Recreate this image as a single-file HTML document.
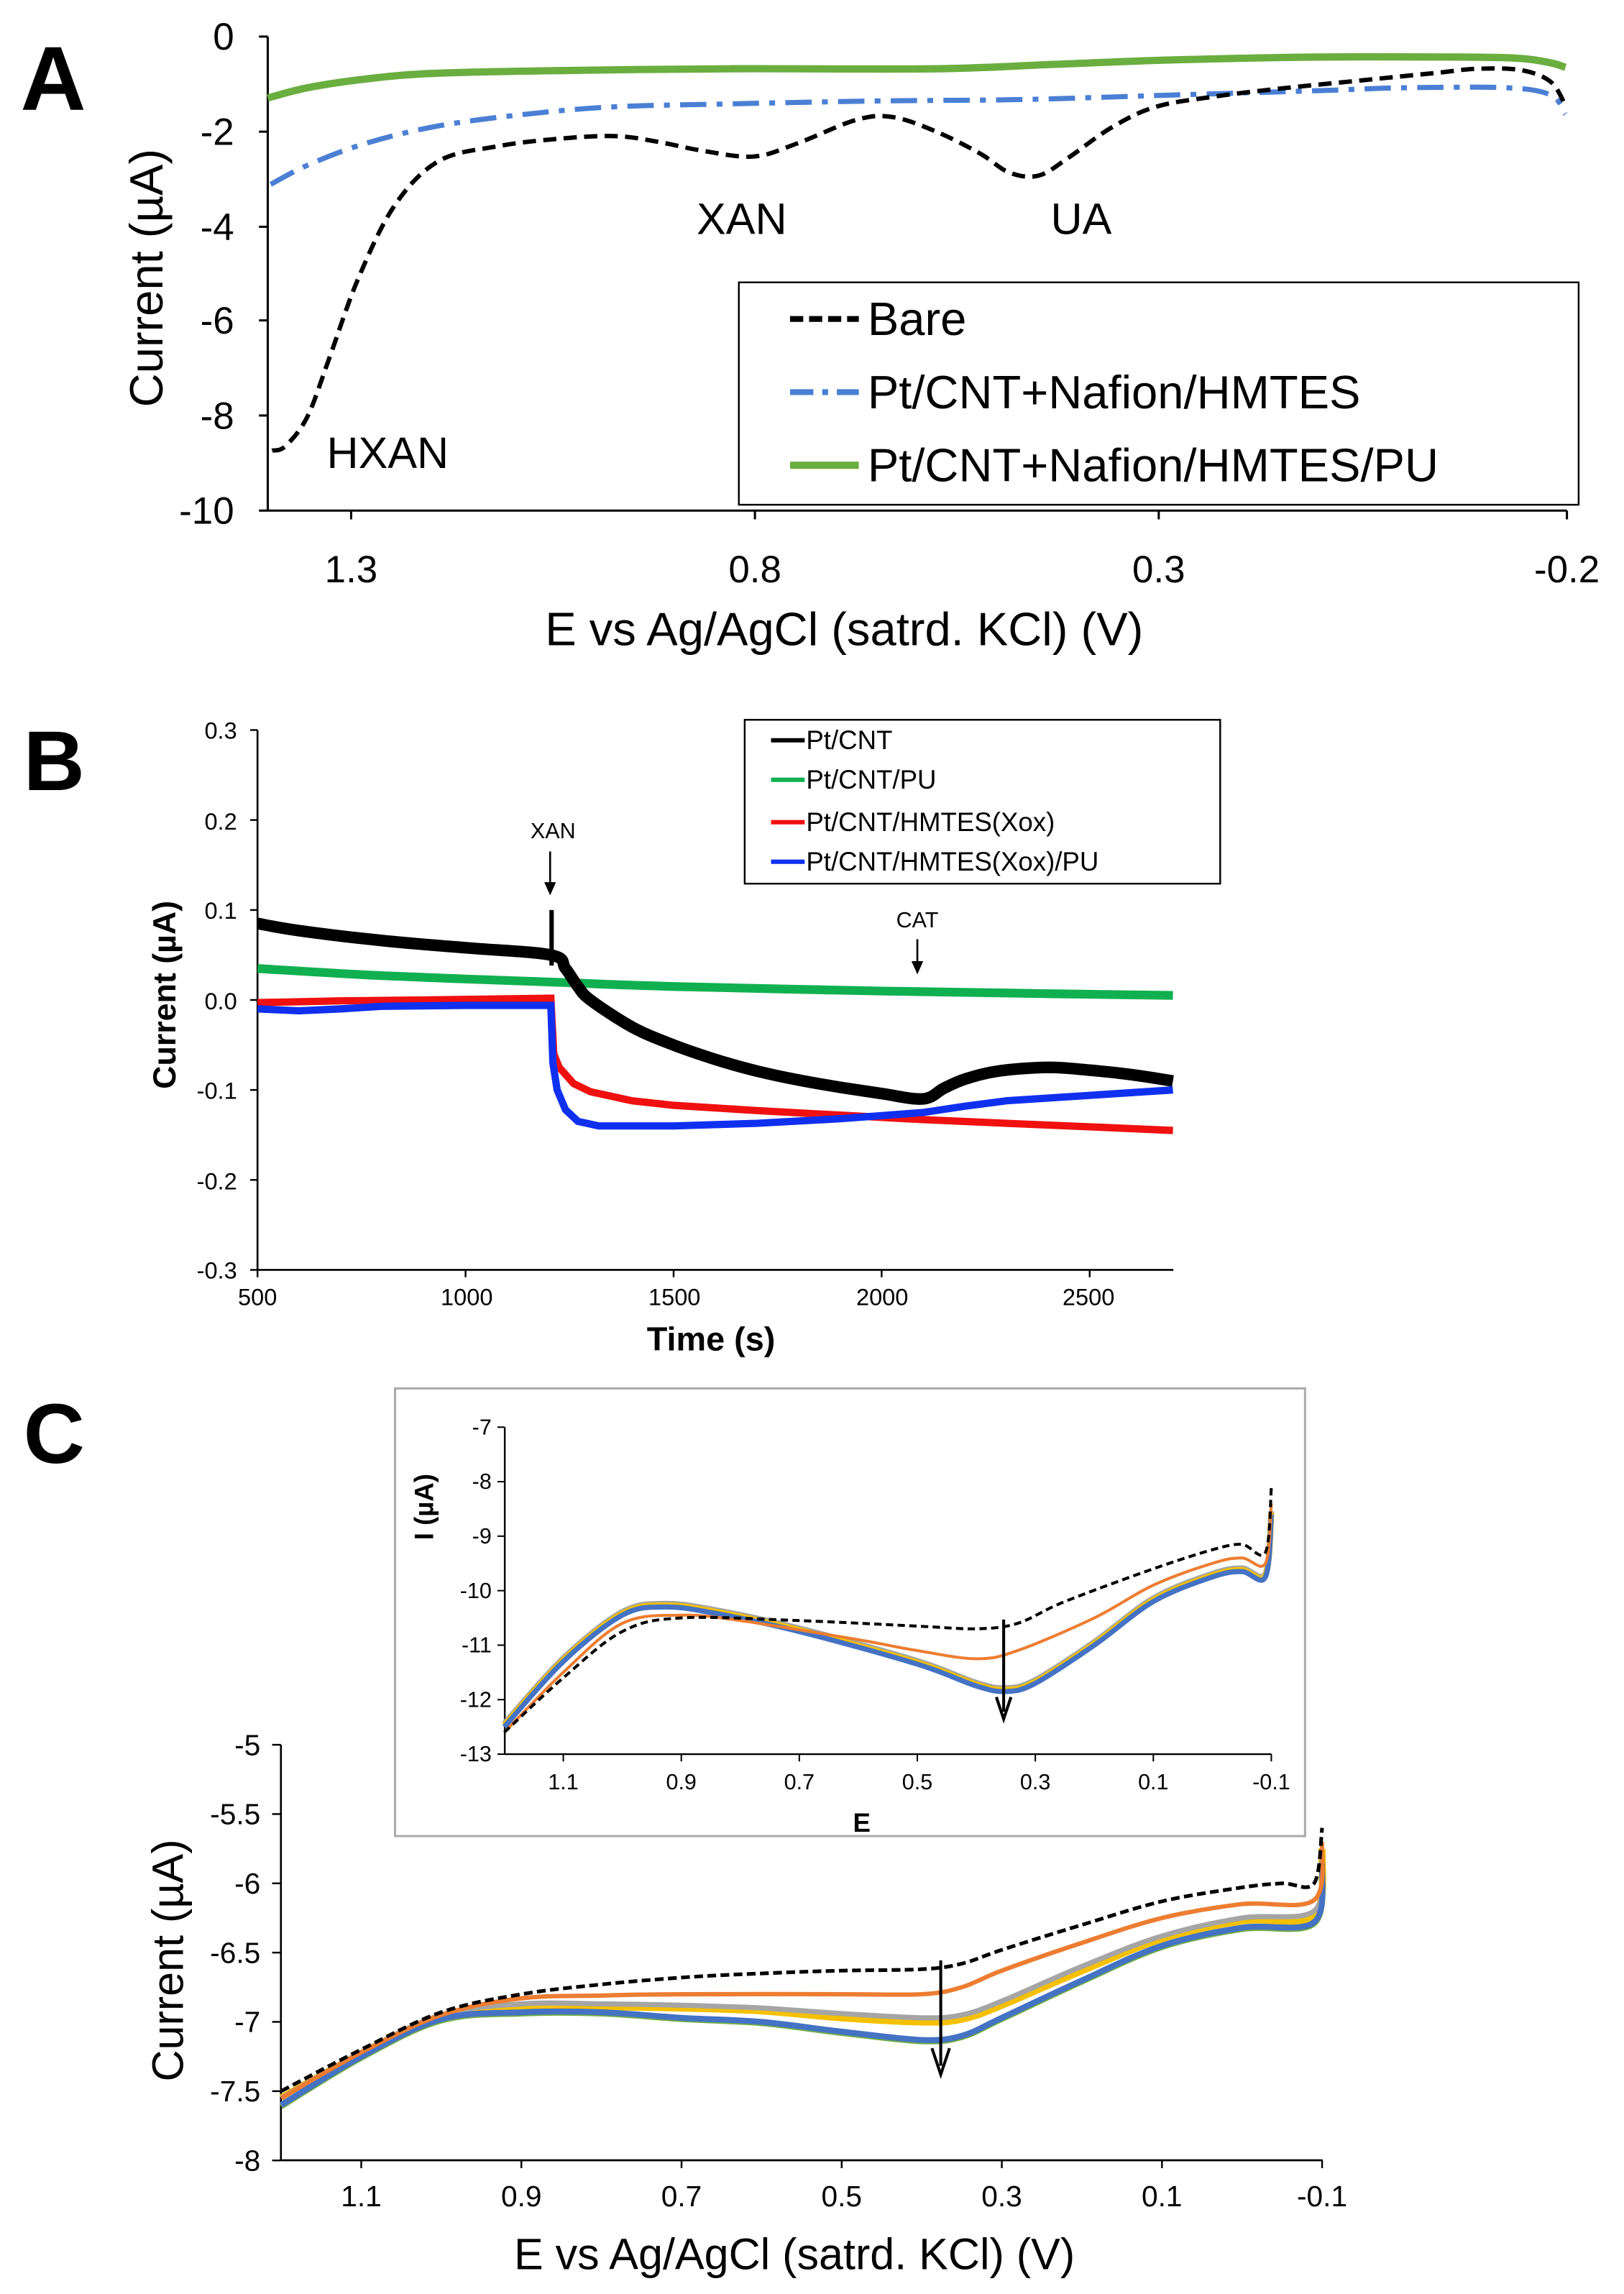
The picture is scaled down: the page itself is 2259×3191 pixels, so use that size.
<!DOCTYPE html>
<html><head><meta charset="utf-8"><style>
html,body{margin:0;padding:0;background:#fff}
svg{display:block}
text{font-family:"Liberation Sans",sans-serif}
</style></head><body>
<svg id="s" width="2259" height="3191" viewBox="0 0 1110 1568" xmlns="http://www.w3.org/2000/svg">
<rect width="1110" height="1568" fill="#fff"/>
<!-- Panel A -->
<text x="14" y="75" font-size="62" font-weight="bold">A</text>
<g stroke="#000" stroke-width="1.5" fill="none">
<line x1="183" y1="25" x2="183" y2="349"/><line x1="183" y1="349" x2="1071" y2="349"/>
<line x1="177" y1="25" x2="183" y2="25"/><line x1="177" y1="90" x2="183" y2="90"/><line x1="177" y1="155" x2="183" y2="155"/><line x1="177" y1="219" x2="183" y2="219"/><line x1="177" y1="284" x2="183" y2="284"/><line x1="177" y1="349" x2="183" y2="349"/>
<line x1="240" y1="349" x2="240" y2="355"/><line x1="516" y1="349" x2="516" y2="355"/><line x1="792" y1="349" x2="792" y2="355"/><line x1="1071" y1="349" x2="1071" y2="355"/>
</g>
<g font-size="26" text-anchor="end">
<text x="160" y="34">0</text><text x="160" y="99">-2</text><text x="160" y="164">-4</text><text x="160" y="228">-6</text><text x="160" y="293">-8</text><text x="160" y="358">-10</text>
</g>
<g font-size="26" text-anchor="middle">
<text x="240" y="398">1.3</text><text x="516" y="398">0.8</text><text x="792" y="398">0.3</text><text x="1071" y="398">-0.2</text>
</g>
<text x="577" y="441" font-size="32" text-anchor="middle">E vs Ag/AgCl (satrd. KCl) (V)</text>
<text transform="translate(111,190) rotate(-90)" font-size="32" text-anchor="middle">Current (µA)</text>
<text x="507" y="160" font-size="30" text-anchor="middle">XAN</text>
<text x="739" y="160" font-size="30" text-anchor="middle">UA</text>
<text x="265" y="320" font-size="30" text-anchor="middle">HXAN</text>
<path id="aG" fill="none" stroke="#6aae3f" stroke-width="5"/>
<path id="aB" fill="none" stroke="#4a7fd4" stroke-width="3.5" stroke-dasharray="18,7,4,7"/>
<path id="aK" fill="none" stroke="#000" stroke-width="3" stroke-dasharray="9,5"/>
<rect x="505" y="193" width="574" height="152" fill="#fff" stroke="#000" stroke-width="1.2"/>
<line x1="540" y1="218" x2="587" y2="218" stroke="#000" stroke-width="4" stroke-dasharray="9,4"/>
<line x1="540" y1="268" x2="587" y2="268" stroke="#4a7fd4" stroke-width="4" stroke-dasharray="16,6,4,6"/>
<line x1="540" y1="318" x2="587" y2="318" stroke="#6aae3f" stroke-width="5"/>
<g font-size="32"><text x="593" y="229">Bare</text><text x="593" y="279">Pt/CNT+Nafion/HMTES</text><text x="593" y="329">Pt/CNT+Nafion/HMTES/PU</text></g>

<!-- Panel B -->
<text x="16" y="540" font-size="58" font-weight="bold">B</text>
<g stroke="#000" stroke-width="1.3" fill="none">
<line x1="176" y1="499" x2="176" y2="868"/><line x1="176" y1="868" x2="802" y2="868"/>
</g>
<g id="bt" stroke="#000" stroke-width="1.2"></g>
<g font-size="16" text-anchor="end">
<text x="162" y="505">0.3</text><text x="162" y="567">0.2</text><text x="162" y="628">0.1</text><text x="162" y="690">0.0</text><text x="162" y="751">-0.1</text><text x="162" y="813">-0.2</text><text x="162" y="874">-0.3</text>
</g>
<g font-size="16" text-anchor="middle">
<text x="176" y="892">500</text><text x="319" y="892">1000</text><text x="461" y="892">1500</text><text x="603" y="892">2000</text><text x="744" y="892">2500</text>
</g>
<text x="486" y="923" font-size="23" font-weight="bold" text-anchor="middle">Time (s)</text>
<text transform="translate(120,680) rotate(-90)" font-size="22" font-weight="bold" text-anchor="middle">Current (µA)</text>
<path id="bG" fill="none" stroke="#10b050" stroke-width="6"/>
<path id="bK" fill="none" stroke="#000" stroke-width="8"/>
<path id="bR" fill="none" stroke="#f01010" stroke-width="5"/>
<path id="bB" fill="none" stroke="#1030f0" stroke-width="5"/>
<line x1="377" y1="622" x2="377" y2="660" stroke="#000" stroke-width="3"/>
<text x="378" y="573" font-size="15" text-anchor="middle">XAN</text>
<line x1="376" y1="582" x2="376" y2="608" stroke="#000" stroke-width="1.3"/><path d="M372,603 L376,612 L380,603Z"/>
<text x="627" y="634" font-size="15" text-anchor="middle">CAT</text>
<line x1="627" y1="642" x2="627" y2="662" stroke="#000" stroke-width="1.3"/><path d="M623,657 L627,666 L631,657Z"/>
<rect x="509" y="492" width="325" height="112" fill="#fff" stroke="#000" stroke-width="1.2"/>
<line x1="527" y1="506" x2="550" y2="506" stroke="#000" stroke-width="3"/>
<line x1="527" y1="533" x2="550" y2="533" stroke="#10b050" stroke-width="3"/>
<line x1="527" y1="562" x2="550" y2="562" stroke="#f01010" stroke-width="3"/>
<line x1="527" y1="589" x2="550" y2="589" stroke="#1030f0" stroke-width="3"/>
<g font-size="18"><text x="551" y="512">Pt/CNT</text><text x="551" y="539">Pt/CNT/PU</text><text x="551" y="568">Pt/CNT/HMTES(Xox)</text><text x="551" y="595">Pt/CNT/HMTES(Xox)/PU</text></g>

<!-- Panel C -->
<text x="16" y="1000" font-size="58" font-weight="bold">C</text>
<g stroke="#000" stroke-width="1.3" fill="none">
<line x1="192" y1="1192.6" x2="192" y2="1476.6"/><line x1="192" y1="1476.6" x2="904" y2="1476.6"/>
</g>
<g id="ct" stroke="#000" stroke-width="1.2"></g>
<g id="cyl" font-size="20" text-anchor="end"></g>
<g id="cxl" font-size="20" text-anchor="middle"></g>
<text x="543" y="1551" font-size="30" text-anchor="middle">E vs Ag/AgCl (satrd. KCl) (V)</text>
<text transform="translate(125,1340) rotate(-90)" font-size="30" text-anchor="middle">Current (µA)</text>
<g id="cc"></g>
<line x1="643" y1="1340" x2="643" y2="1412" stroke="#000" stroke-width="2"/><path d="M637,1400 L643,1418 L649,1400" fill="none" stroke="#000" stroke-width="2"/>
<!-- inset -->
<rect x="270" y="949" width="622" height="306" fill="#fff" stroke="#aaa" stroke-width="1.5"/>
<g stroke="#000" stroke-width="1.2" fill="none">
<line x1="345" y1="975.5" x2="345" y2="1199"/><line x1="345" y1="1199" x2="869" y2="1199"/>
</g>
<g id="it" stroke="#000" stroke-width="1"></g>
<g id="iyl" font-size="15" text-anchor="end"></g>
<g id="ixl" font-size="15" text-anchor="middle"></g>
<text x="589" y="1252" font-size="18" font-weight="bold" text-anchor="middle">E</text>
<text transform="translate(296,1030) rotate(-90)" font-size="18" font-weight="bold" text-anchor="middle">I (µA)</text>
<g id="ic"></g>
<line x1="686" y1="1107" x2="686" y2="1170" stroke="#000" stroke-width="2"/><path d="M681,1160 L686,1175 L691,1160" fill="none" stroke="#000" stroke-width="2"/>
</svg>
<script>
function sm(p){var d="M"+p[0][0].toFixed(1)+","+p[0][1].toFixed(1);
for(var i=0;i<p.length-1;i++){var p0=p[i-1]||p[i],p1=p[i],p2=p[i+1],p3=p[i+2]||p2;
var c1=[p1[0]+(p2[0]-p0[0])/6,p1[1]+(p2[1]-p0[1])/6],c2=[p2[0]-(p3[0]-p1[0])/6,p2[1]-(p3[1]-p1[1])/6];
d+=" C"+c1[0].toFixed(1)+","+c1[1].toFixed(1)+" "+c2[0].toFixed(1)+","+c2[1].toFixed(1)+" "+p2[0].toFixed(1)+","+p2[1].toFixed(1);}return d;}
function $(i){return document.getElementById(i)}
var NS="http://www.w3.org/2000/svg";
function el(par,tag,at,txt){var e=document.createElementNS(NS,tag);for(var k in at)e.setAttribute(k,at[k]);if(txt)e.textContent=txt;par.appendChild(e);return e;}
// A
$("aK").setAttribute("d",sm([[186,308],[195,305],[210,285],[225,245],[245,190],[270,140],[300,110],[340,100],[380,95],[420,93],[450,97],[480,103],[515,107],[545,98],[585,82],[610,80],[640,90],[670,105],[690,118],[710,120],[730,108],[760,87],[790,73],[830,66],[880,60],[930,55],[980,50],[1010,47],[1040,48],[1060,56],[1070,72]]));
$("aB").setAttribute("d",sm([[185,126],[210,113],[250,98],[300,86],[360,78],[420,73],[500,71],[600,69],[700,68],[800,65],[900,62],[960,60],[1030,60],[1060,65],[1070,78]]));
$("aG").setAttribute("d",sm([[183,67],[210,60],[250,54],[300,50],[400,48],[500,47],[640,47],[720,44],[800,41],[900,39],[1000,39],[1040,40],[1060,43],[1070,46]]));
// B
function bx(t){return 176+(t-500)*0.2844}function by(v){return 683.5-v*615}
var bt=$("bt");[0.3,0.2,0.1,0,-0.1,-0.2,-0.3].forEach(function(v){el(bt,"line",{x1:171,x2:176,y1:by(v),y2:by(v)})});
[500,1000,1500,2000,2500].forEach(function(t){el(bt,"line",{x1:bx(t),x2:bx(t),y1:868,y2:873})});
function bp(a){return a.map(function(q){return [bx(q[0]),by(q[1])]})}
function lin(p){return "M"+p.map(function(q){return q[0].toFixed(1)+","+q[1].toFixed(1)}).join(" L")}
$("bG").setAttribute("d",sm(bp([[500,0.035],[800,0.027],[1200,0.02],[1500,0.015],[2000,0.01],[2400,0.007],[2700,0.005]])));
$("bK").setAttribute("d",sm(bp([[500,0.085],[600,0.077],[800,0.066],[1000,0.058],[1205,0.05],[1240,0.035],[1270,0.015],[1300,0.0],[1400,-0.03],[1500,-0.05],[1600,-0.066],[1700,-0.079],[1800,-0.089],[1900,-0.097],[2000,-0.104],[2100,-0.11],[2150,-0.098],[2200,-0.088],[2280,-0.079],[2400,-0.075],[2500,-0.078],[2600,-0.083],[2700,-0.09]])));
$("bR").setAttribute("d",lin(bp([[500,-0.003],[700,-0.001],[900,0.0],[1205,0.002],[1212,-0.06],[1225,-0.075],[1260,-0.093],[1300,-0.102],[1400,-0.112],[1500,-0.117],[1700,-0.123],[1900,-0.128],[2100,-0.133],[2300,-0.137],[2500,-0.141],[2700,-0.145]])));
$("bB").setAttribute("d",lin(bp([[500,-0.01],[600,-0.012],[700,-0.01],[800,-0.007],[1000,-0.006],[1205,-0.006],[1210,-0.07],[1220,-0.1],[1240,-0.122],[1270,-0.135],[1320,-0.14],[1500,-0.14],[1700,-0.137],[1900,-0.132],[2100,-0.125],[2200,-0.118],[2300,-0.112],[2500,-0.106],[2700,-0.1]])));
// C main
function cx(e){return 246.9+(1.1-e)*547.3}function cy(i){return 1192.6+(-5-i)*94.7}
var ct=$("ct"),cyl=$("cyl"),cxl=$("cxl");
[-5,-5.5,-6,-6.5,-7,-7.5,-8].forEach(function(v){el(ct,"line",{x1:186,x2:192,y1:cy(v),y2:cy(v)});el(cyl,"text",{x:178,y:cy(v)+7},String(v))});
[1.1,0.9,0.7,0.5,0.3,0.1,-0.1].forEach(function(v){el(ct,"line",{x1:cx(v),x2:cx(v),y1:1476.6,y2:1482});el(cxl,"text",{x:cx(v),y:1508},v.toFixed(1))});
function cp(a,fx,fy){return a.map(function(q){return [fx(q[0]),fy(q[1])]})}
var cc=$("cc");
function add(g,d,col,w,da){var a={d:d,fill:"none",stroke:col,"stroke-width":w};if(da)a["stroke-dasharray"]=da;el(g,"path",a)}
var blueC=[[1.2,-7.6],[1.1,-7.25],[1.0,-6.98],[0.9,-6.93],[0.8,-6.93],[0.7,-6.97],[0.6,-7.0],[0.5,-7.07],[0.4,-7.13],[0.35,-7.1],[0.3,-6.97],[0.2,-6.7],[0.1,-6.45],[0.0,-6.32],[-0.09,-6.28],[-0.1,-5.85]];
add(cc,sm(cp([[1.2,-7.55],[1.1,-7.23],[1.0,-6.96],[0.9,-6.89],[0.8,-6.89],[0.7,-6.9],[0.6,-6.92],[0.5,-6.97],[0.4,-7.0],[0.35,-6.98],[0.3,-6.88],[0.2,-6.63],[0.1,-6.4],[0.0,-6.27],[-0.09,-6.23],[-0.1,-5.75]],cx,cy)),"#f5c000",5);
add(cc,sm(cp([[1.2,-7.55],[1.1,-7.22],[1.0,-6.95],[0.9,-6.87],[0.8,-6.87],[0.7,-6.88],[0.6,-6.9],[0.5,-6.94],[0.4,-6.97],[0.35,-6.95],[0.3,-6.85],[0.2,-6.6],[0.1,-6.38],[0.0,-6.25],[-0.09,-6.2],[-0.1,-5.8]],cx,cy)),"#a5a5a5",3.5);
add(cc,sm(cp(blueC.map(function(q){return [q[0],q[1]-0.01]}),cx,cy)),"#70ad47",4);
add(cc,sm(cp(blueC,cx,cy)),"#4472c4",4);
add(cc,sm(cp([[1.2,-7.55],[1.1,-7.22],[1.0,-6.95],[0.9,-6.83],[0.8,-6.81],[0.7,-6.8],[0.5,-6.8],[0.4,-6.8],[0.35,-6.75],[0.3,-6.63],[0.2,-6.43],[0.1,-6.25],[0.0,-6.15],[-0.09,-6.12],[-0.1,-5.7]],cx,cy)),"#ed7d31",3);
add(cc,sm(cp([[1.2,-7.5],[1.1,-7.2],[1.0,-6.93],[0.9,-6.8],[0.8,-6.73],[0.7,-6.68],[0.6,-6.65],[0.5,-6.63],[0.4,-6.62],[0.35,-6.58],[0.3,-6.48],[0.2,-6.3],[0.1,-6.13],[0.0,-6.03],[-0.05,-6.0],[-0.09,-6.0],[-0.1,-5.6]],cx,cy)),"#000",2.5,"6,3");
// inset
function ix(e){return 385+(1.1-e)*403.3}function iy(i){return 975.5+(-7-i)*37.25}
var it=$("it"),iyl=$("iyl"),ixl=$("ixl");
[-7,-8,-9,-10,-11,-12,-13].forEach(function(v){el(it,"line",{x1:340,x2:345,y1:iy(v),y2:iy(v)});el(iyl,"text",{x:336,y:iy(v)+5},String(v))});
[1.1,0.9,0.7,0.5,0.3,0.1,-0.1].forEach(function(v){el(it,"line",{x1:ix(v),x2:ix(v),y1:1199,y2:1204});el(ixl,"text",{x:ix(v),y:1223},v.toFixed(1))});
var ic=$("ic");
var ib=[[1.2,-12.5],[1.1,-11.3],[1.0,-10.45],[0.93,-10.3],[0.85,-10.4],[0.7,-10.75],[0.5,-11.35],[0.4,-11.75],[0.35,-11.85],[0.3,-11.7],[0.2,-11.0],[0.1,-10.2],[0.0,-9.75],[-0.05,-9.65],[-0.09,-9.75],[-0.1,-8.6]];
add(ic,sm(cp(ib.map(function(q){return [q[0],q[1]+0.06]}),ix,iy)),"#a5a5a5",4);
add(ic,sm(cp(ib.map(function(q){return [q[0],q[1]+0.03]}),ix,iy)),"#f5c000",4);
add(ic,sm(cp(ib,ix,iy)),"#4472c4",3.5);
add(ic,sm(cp([[1.2,-12.6],[1.1,-11.5],[1.0,-10.6],[0.9,-10.45],[0.8,-10.55],[0.6,-10.9],[0.5,-11.1],[0.4,-11.25],[0.33,-11.1],[0.2,-10.5],[0.1,-9.9],[0.0,-9.5],[-0.05,-9.4],[-0.09,-9.5],[-0.1,-8.4]],ix,iy)),"#ed7d31",2);
add(ic,sm(cp([[1.2,-12.6],[1.1,-11.6],[1.0,-10.75],[0.9,-10.5],[0.7,-10.55],[0.5,-10.65],[0.4,-10.7],[0.33,-10.6],[0.25,-10.2],[0.1,-9.6],[0.0,-9.25],[-0.05,-9.15],[-0.09,-9.3],[-0.1,-8.1]],ix,iy)),"#000",2,"5,3");
</script>
</body></html>
